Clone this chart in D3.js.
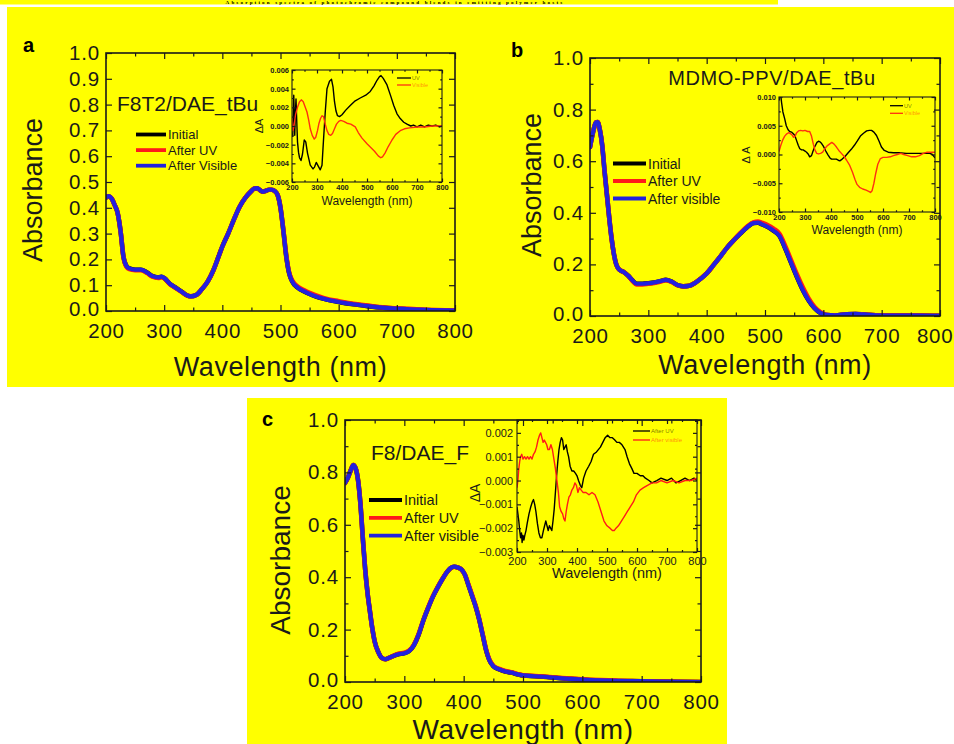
<!DOCTYPE html>
<html><head><meta charset="utf-8">
<script src="https://cdn.jsdelivr.net/npm/d3@7"></script>
<style>html,body{margin:0;padding:0;background:#fff;}svg{display:block;}</style>
</head><body><svg id="chart" width="954" height="744"></svg>
<script>
// ---------------- DATA ----------------
const headerText = "Absorption spectra of photochromic compound blends in emitting polymer hosts";
const panelLabels = ["a", "b", "c"];
const titles = ["F8T2/DAE_tBu", "MDMO-PPV/DAE_tBu", "F8/DAE_F"];
const legendA = ["Initial", "After UV", "After Visible"];
const legendB = ["Initial", "After UV", "After visible"];
const legendC = ["Initial", "After UV", "After visible"];
const insetLegendA = ["UV", "Visible"];
const insetLegendB = ["UV", "Visible"];
const insetLegendC = ["After UV", "After visible"];
const xTicks = [200, 300, 400, 500, 600, 700, 800];
const yTicksA = [0, 0.1, 0.2, 0.3, 0.4, 0.5, 0.6, 0.7, 0.8, 0.9, 1.0];
const yTicksBC = [0, 0.2, 0.4, 0.6, 0.8, 1.0];
const insetYTicksA = [-0.006, -0.004, -0.002, 0, 0.002, 0.004, 0.006];
const insetYTicksB = [-0.010, -0.005, 0, 0.005, 0.010];
const insetYTicksC = [-0.003, -0.002, -0.001, 0, 0.001, 0.002];

// Panel a: F8T2/DAE_tBu
const aWl = [200,205,210,215,220,225,230,235,240,250,260,270,280,290,295,300,310,320,330,340,346,355,365,375,385,395,400,410,420,430,440,450,455,460,465,470,475,480,485,490,495,500,505,510,515,520,530,540,550,560,575,600,625,650,675,700,750,800];
const aInitial = [0.44,0.445,0.435,0.41,0.38,0.31,0.21,0.175,0.165,0.16,0.16,0.15,0.135,0.13,0.133,0.128,0.105,0.09,0.075,0.06,0.057,0.062,0.085,0.115,0.16,0.22,0.25,0.30,0.355,0.405,0.44,0.465,0.475,0.476,0.468,0.462,0.466,0.47,0.47,0.465,0.45,0.40,0.31,0.21,0.145,0.115,0.09,0.077,0.066,0.057,0.047,0.035,0.026,0.019,0.013,0.009,0.004,0.002];
const aAfterUV = [0.44,0.445,0.435,0.41,0.38,0.31,0.21,0.172,0.162,0.158,0.158,0.148,0.133,0.128,0.131,0.127,0.104,0.089,0.074,0.06,0.057,0.062,0.085,0.115,0.16,0.22,0.25,0.30,0.355,0.405,0.44,0.465,0.475,0.476,0.468,0.462,0.466,0.47,0.47,0.465,0.45,0.40,0.312,0.213,0.148,0.119,0.094,0.081,0.07,0.061,0.05,0.038,0.028,0.021,0.014,0.01,0.005,0.002];
const aAfterVisible = [0.44,0.445,0.435,0.41,0.38,0.31,0.21,0.175,0.165,0.16,0.16,0.15,0.135,0.13,0.133,0.128,0.105,0.09,0.075,0.06,0.057,0.062,0.085,0.115,0.16,0.22,0.25,0.30,0.355,0.405,0.44,0.465,0.475,0.476,0.468,0.462,0.466,0.47,0.47,0.465,0.45,0.40,0.31,0.21,0.145,0.115,0.09,0.077,0.066,0.057,0.047,0.035,0.026,0.019,0.013,0.009,0.004,0.002];
const aInsetUV = [[200,-0.0008],[203,-0.0011],[205,0.0012],[207,0.0033],[209,0.0012],[211,-0.0010],[213,0.0010],[216,0.0029],[219,0.0005],[222,-0.0017],[226,-0.0028],[230,-0.0034],[236,-0.0037],[242,-0.0030],[249,-0.0015],[255,-0.0017],[262,-0.0029],[273,-0.0042],[284,-0.0046],[290,-0.0044],[297,-0.0039],[305,-0.0043],[313,-0.0047],[320,-0.0042],[326,-0.0015],[333,0.0015],[340,0.0040],[350,0.0048],[358,0.0050],[364,0.0042],[370,0.0026],[376,0.0016],[382,0.0011],[390,0.0010],[400,0.0012],[415,0.0017],[433,0.0022],[453,0.0027],[473,0.0030],[495,0.0033],[513,0.0037],[528,0.0043],[540,0.0049],[550,0.0053],[556,0.0054],[565,0.0051],[580,0.0044],[595,0.0032],[607,0.0022],[620,0.0013],[633,0.0008],[647,0.0004],[660,0.0002],[675,0.0000],[686,0.0001],[700,-0.0001],[715,0.0001],[730,-0.0001],[745,0.0001],[760,0.0000],[775,0.0001],[790,-0.0001],[800,0.0000]];
const aInsetVisible = [[200,0.0010],[204,-0.0005],[208,0.0000],[214,0.0012],[222,0.0020],[230,0.0026],[238,0.0028],[245,0.0026],[253,0.0020],[260,0.0015],[267,0.0006],[273,-0.0003],[281,-0.0010],[289,-0.0014],[295,-0.0012],[302,-0.0005],[308,0.0003],[314,0.0008],[320,0.0011],[326,0.0010],[333,0.0002],[340,-0.0005],[347,-0.0009],[355,-0.0010],[362,-0.0008],[370,-0.0003],[378,0.0002],[387,0.0005],[395,0.0006],[407,0.0005],[420,0.0003],[435,0.0002],[453,-0.0001],[465,-0.0007],[480,-0.0013],[500,-0.0019],[515,-0.0023],[530,-0.0027],[545,-0.0032],[555,-0.0034],[562,-0.0033],[572,-0.0029],[585,-0.0022],[600,-0.0015],[615,-0.0009],[633,-0.0005],[650,-0.0003],[670,-0.0002],[700,-0.0001],[730,-0.0001],[760,0.0000],[800,0.0000]];

// Panel b: MDMO-PPV/DAE_tBu
const bWl = [200,205,210,213,217,221,225,229,233,237,241,245,250,258,266,272,280,290,300,310,320,330,340,350,360,370,380,390,400,412,425,435,445,458,470,480,488,495,505,515,525,535,545,555,565,575,585,595,605,620,640,655,670,690,720,760,800];
const bInitial = [0.655,0.71,0.75,0.752,0.72,0.66,0.56,0.47,0.38,0.30,0.24,0.20,0.18,0.17,0.155,0.14,0.125,0.125,0.127,0.13,0.135,0.14,0.133,0.12,0.115,0.117,0.128,0.145,0.165,0.198,0.235,0.265,0.29,0.32,0.345,0.36,0.362,0.355,0.345,0.33,0.31,0.26,0.205,0.15,0.10,0.06,0.03,0.012,0.004,0.003,0.007,0.008,0.006,0.003,0.002,0.002,0.001];
const bAfterUV = [0.655,0.71,0.75,0.752,0.72,0.66,0.56,0.47,0.38,0.30,0.24,0.20,0.18,0.17,0.155,0.138,0.122,0.122,0.125,0.128,0.133,0.139,0.132,0.12,0.115,0.117,0.128,0.145,0.165,0.198,0.235,0.265,0.29,0.322,0.348,0.363,0.366,0.361,0.352,0.338,0.318,0.27,0.215,0.16,0.11,0.067,0.035,0.015,0.005,0.003,0.007,0.008,0.006,0.003,0.002,0.002,0.001];
const bAfterVisible = [0.655,0.71,0.75,0.752,0.72,0.66,0.56,0.47,0.38,0.30,0.24,0.20,0.18,0.17,0.155,0.14,0.125,0.125,0.127,0.13,0.135,0.14,0.133,0.12,0.115,0.117,0.128,0.145,0.165,0.198,0.235,0.265,0.29,0.32,0.345,0.36,0.362,0.355,0.345,0.33,0.31,0.26,0.205,0.15,0.10,0.06,0.03,0.012,0.004,0.003,0.007,0.008,0.006,0.003,0.002,0.002,0.001];
const bInsetUV = [[205,0.0110],[210,0.0090],[215,0.0074],[222,0.0062],[228,0.0050],[235,0.0043],[241,0.0040],[248,0.0039],[255,0.0036],[261,0.0033],[267,0.0025],[274,0.0016],[280,0.0010],[287,0.0008],[293,0.0008],[300,0.0006],[306,0.0004],[312,0.0001],[318,-0.0004],[325,-0.0002],[331,0.0006],[337,0.0013],[346,0.0021],[352,0.0023],[358,0.0022],[364,0.0019],[370,0.0015],[380,0.0006],[389,-0.0001],[396,-0.0006],[402,-0.0008],[410,-0.0008],[421,-0.0008],[428,-0.0010],[434,-0.0011],[443,-0.0008],[453,-0.0004],[466,0.0003],[478,0.0009],[490,0.0016],[502,0.0024],[513,0.0032],[525,0.0037],[537,0.0041],[548,0.0042],[556,0.0042],[565,0.0039],[575,0.0033],[585,0.0023],[594,0.0013],[605,0.0007],[620,0.0004],[640,0.0003],[660,0.0003],[690,0.0002],[720,0.0002],[750,0.0002],[780,0.0002],[790,0.0000],[800,-0.0006]];
const bInsetVisible = [[200,0.0005],[207,0.0016],[215,0.0026],[222,0.0032],[230,0.0036],[238,0.0038],[245,0.0036],[250,0.0034],[256,0.0030],[262,0.0032],[268,0.0038],[275,0.0041],[283,0.0042],[292,0.0041],[300,0.0042],[310,0.0040],[318,0.0040],[325,0.0032],[332,0.0018],[338,0.0008],[345,0.0002],[352,0.0001],[360,0.0002],[368,0.0004],[376,0.0010],[385,0.0015],[394,0.0018],[403,0.0021],[412,0.0018],[421,0.0013],[430,0.0007],[440,0.0002],[450,-0.0003],[460,-0.0010],[472,-0.0019],[482,-0.0030],[492,-0.0043],[500,-0.0052],[510,-0.0057],[522,-0.0060],[535,-0.0062],[545,-0.0064],[552,-0.0066],[558,-0.0063],[565,-0.0050],[572,-0.0033],[580,-0.0017],[590,-0.0007],[600,-0.0005],[614,-0.0005],[628,-0.0004],[640,-0.0002],[655,0.0000],[668,0.0002],[680,0.0000],[695,-0.0002],[710,-0.0004],[725,-0.0004],[740,-0.0002],[755,0.0002],[770,0.0004],[785,0.0004],[800,0.0004]];

// Panel c: F8/DAE_F
const cWl = [200,205,210,214,218,222,226,230,234,238,242,246,250,256,262,268,274,280,290,300,308,316,324,332,340,348,356,364,372,378,384,390,396,402,408,414,420,426,432,438,443,450,460,470,480,490,500,520,540,560,580,600,630,660,700,730,760,800];
const cInitial = [0.76,0.78,0.81,0.828,0.815,0.77,0.68,0.55,0.43,0.34,0.27,0.205,0.155,0.115,0.092,0.087,0.092,0.098,0.106,0.11,0.118,0.14,0.18,0.235,0.282,0.325,0.36,0.392,0.42,0.435,0.44,0.437,0.43,0.41,0.37,0.33,0.29,0.24,0.18,0.12,0.085,0.06,0.048,0.04,0.036,0.03,0.025,0.022,0.019,0.015,0.012,0.009,0.006,0.004,0.003,0.002,0.001,0.0];
const cAfterUV = [0.76,0.78,0.81,0.828,0.815,0.77,0.68,0.55,0.43,0.34,0.27,0.205,0.155,0.115,0.092,0.087,0.092,0.098,0.108,0.112,0.12,0.142,0.182,0.236,0.283,0.326,0.361,0.392,0.42,0.435,0.44,0.437,0.43,0.41,0.372,0.333,0.292,0.242,0.182,0.122,0.087,0.062,0.05,0.042,0.037,0.031,0.026,0.023,0.02,0.016,0.013,0.01,0.007,0.005,0.003,0.002,0.001,0.0];
const cAfterVisible = [0.76,0.78,0.81,0.828,0.815,0.77,0.68,0.55,0.43,0.34,0.27,0.205,0.155,0.115,0.092,0.087,0.092,0.098,0.106,0.11,0.118,0.14,0.18,0.235,0.282,0.325,0.36,0.392,0.42,0.435,0.44,0.437,0.43,0.41,0.37,0.33,0.29,0.24,0.18,0.12,0.085,0.06,0.048,0.04,0.036,0.03,0.025,0.022,0.019,0.015,0.012,0.009,0.006,0.004,0.003,0.002,0.001,0.0];
const cInsetUV = [[200,-0.0011],[203,-0.0014],[206,-0.0017],[209,-0.0021],[212,-0.0024],[215,-0.0022],[217,-0.0026],[220,-0.0023],[223,-0.0025],[226,-0.0023],[230,-0.0021],[234,-0.0018],[240,-0.0014],[246,-0.0011],[251,-0.0009],[255,-0.0008],[259,-0.0010],[263,-0.0013],[268,-0.0018],[273,-0.0022],[278,-0.0024],[283,-0.0024],[288,-0.0021],[292,-0.0019],[296,-0.0017],[300,-0.0019],[304,-0.0021],[308,-0.0019],[312,-0.0020],[316,-0.0021],[320,-0.0017],[324,-0.0012],[328,-0.0005],[332,0.0002],[336,0.0008],[340,0.0013],[344,0.0016],[348,0.0018],[352,0.0017],[356,0.0013],[360,0.0014],[364,0.0015],[368,0.0012],[372,0.0010],[377,0.0006],[383,0.0004],[389,0.0004],[395,0.0003],[400,0.0002],[405,0.0000],[411,-0.0002],[416,-0.0003],[422,0.0001],[430,0.0004],[439,0.0006],[447,0.0008],[455,0.0011],[465,0.0012],[478,0.0014],[486,0.0016],[494,0.0018],[502,0.0019],[510,0.0018],[518,0.0018],[526,0.0017],[533,0.0016],[541,0.0016],[550,0.0015],[560,0.0013],[567,0.0010],[575,0.0007],[583,0.0005],[590,0.0003],[600,0.0003],[611,0.0002],[620,0.0002],[628,0.0001],[640,0.0000],[650,-0.0001],[666,0.0000],[680,0.0001],[700,0.0000],[715,0.0001],[730,-0.0001],[745,0.0000],[760,0.0001],[775,0.0000],[790,0.0001],[800,0.0000]];
const cInsetVisible = [[200,-0.0003],[203,0.0000],[206,0.0005],[209,0.0008],[212,0.0010],[216,0.0011],[220,0.0009],[225,0.0010],[230,0.0009],[235,0.0010],[240,0.0009],[245,0.0010],[250,0.0009],[255,0.0011],[260,0.0012],[265,0.0014],[270,0.0017],[275,0.0019],[279,0.0020],[283,0.0018],[287,0.0016],[291,0.0017],[295,0.0016],[299,0.0015],[303,0.0013],[308,0.0013],[313,0.0015],[318,0.0013],[323,0.0009],[328,0.0005],[333,0.0000],[338,-0.0005],[342,-0.0011],[347,-0.0013],[352,-0.0014],[356,-0.0016],[360,-0.0017],[364,-0.0013],[368,-0.0010],[373,-0.0007],[378,-0.0006],[383,-0.0004],[388,-0.0003],[393,-0.0001],[398,-0.0002],[403,-0.0005],[408,-0.0003],[414,-0.0004],[420,-0.0005],[430,-0.0005],[440,-0.0006],[450,-0.0005],[460,-0.0006],[470,-0.0009],[480,-0.0013],[490,-0.0017],[500,-0.0019],[510,-0.0020],[518,-0.0021],[524,-0.0021],[530,-0.0020],[538,-0.0019],[548,-0.0017],[558,-0.0015],[568,-0.0013],[578,-0.0011],[588,-0.0009],[598,-0.0006],[610,-0.0004],[622,-0.0003],[635,-0.0002],[650,-0.0001],[665,-0.0001],[680,0.0000],[700,-0.0001],[720,0.0000],[740,-0.0001],[760,0.0000],[780,0.0000],[800,0.0001]];

// ---------------- DRAWING ----------------
const FONT = "Arial, 'Liberation Sans', Helvetica, sans-serif";
const INK = "#1a1a1a";
const YELLOW = "#ffff00";
const C_BLACK = "#000000", C_RED = "#ff1a1a", C_BLUE = "#2222dd", C_IRED = "#ff3010";
const svg = d3.select("#chart");
svg.append("rect").attr("width", 954).attr("height", 744).attr("fill", "#ffffff");
svg.append("rect").attr("x", 0).attr("y", 0).attr("width", 778).attr("height", 4.5).attr("fill", YELLOW);
svg.append("text").attr("x", 395).attr("y", 4).attr("text-anchor", "middle")
  .attr("font-family", "'Liberation Serif', 'DejaVu Serif', serif").attr("font-weight", "bold")
  .attr("font-size", 5).attr("letter-spacing", 2.2).attr("fill", "#000").text(headerText);
svg.append("rect").attr("x", 7).attr("y", 7).attr("width", 947).attr("height", 380).attr("fill", YELLOW);
svg.append("rect").attr("x", 247).attr("y", 398).attr("width", 480).attr("height", 346).attr("fill", YELLOW);
const defs = svg.append("defs");
let clipId = 0;

function styleAxis(g, fs, weight, ls) {
  g.attr("font-size", fs).attr("font-family", FONT);
  g.select(".domain").remove();
  g.selectAll("line").attr("stroke", INK).attr("stroke-width", 1.2);
  g.selectAll("text").attr("fill", INK).attr("font-weight", weight || "normal").attr("letter-spacing", ls || 0);
}

function drawFrame(g, x, y, box, o) {
  const mk = (axisFn, vals, size, fmt, pad, tr, fs) => {
    const a = axisFn(axisFn === d3.axisBottom || axisFn === d3.axisTop ? x : y)
      .tickValues(vals).tickSizeInner(-size).tickSizeOuter(0).tickPadding(pad).tickFormat(fmt);
    const gg = g.append("g").attr("transform", tr).call(a);
    styleAxis(gg, fs, o.weight, o.ls);
    return gg;
  };
  const none = () => "";
  const bt = `translate(0,${box.y1})`, tt = `translate(0,${box.y0})`;
  const lt = `translate(${box.x0},0)`, rt = `translate(${box.x1},0)`;
  const xb = mk(d3.axisBottom, o.xMajor, o.major, d3.format("d"), o.xPad, bt, o.fs);
  if (o.maxRight) {
    // keep the last label inside the picture
    xb.selectAll(".tick").filter(d => d === 800).select("text")
      .attr("text-anchor", "end").attr("x", o.maxRight - box.x1);
  }
  mk(d3.axisBottom, o.xMinor, o.minor, none, 0, bt, o.fs);
  mk(d3.axisTop, o.xMajor, o.major, none, 0, tt, o.fs);
  mk(d3.axisTop, o.xMinor, o.minor, none, 0, tt, o.fs);
  const yl = mk(d3.axisLeft, o.yMajor, o.major, o.yFmt, o.yPad, lt, o.fs);
  if (o.lowLabelLift) {
    // nudge the lowest y label up a little so it clears the first x label
    yl.selectAll(".tick").filter(d => d === o.yMajor[0]).select("text").attr("y", -o.lowLabelLift);
  }
  mk(d3.axisLeft, o.yMinor, o.minor, none, 0, lt, o.fs);
  mk(d3.axisRight, o.yMajor, o.major, none, 0, rt, o.fs);
  mk(d3.axisRight, o.yMinor, o.minor, none, 0, rt, o.fs);
  g.append("rect").attr("x", box.x0).attr("y", box.y0).attr("width", box.x1 - box.x0)
    .attr("height", box.y1 - box.y0).attr("fill", "none").attr("stroke", INK).attr("stroke-width", o.frameW);
}

function clipFor(box) {
  const id = "clip" + (clipId++);
  defs.append("clipPath").attr("id", id).append("rect")
    .attr("x", box.x0).attr("y", box.y0).attr("width", box.x1 - box.x0).attr("height", box.y1 - box.y0);
  return `url(#${id})`;
}

function drawMain(p) {
  const g = svg.append("g");
  const x = d3.scaleLinear().domain([200, 800]).range([p.box.x0, p.box.x1]);
  const y = d3.scaleLinear().domain([0, 1]).range([p.box.y1, p.box.y0]);
  const line = d3.line().x(d => x(d[0])).y(d => y(d[1])).curve(d3.curveMonotoneX);
  const cg = g.append("g").attr("clip-path", clipFor(p.box));
  p.series.forEach(s => {
    cg.append("path").datum(d3.zip(p.wl, s.vals)).attr("d", line).attr("fill", "none")
      .attr("stroke", s.color).attr("stroke-width", s.w).attr("stroke-linejoin", "round").attr("stroke-linecap", "round");
  });
  drawFrame(g, x, y, p.box, {xMajor: xTicks, xMinor: [250,350,450,550,650,750], yMajor: p.yMajor, yMinor: p.yMinor,
    yFmt: d3.format(".1f"), major: 6, minor: 3.5, xPad: 12, yPad: 6, fs: p.fs, frameW: 1.6, ls: 0.8,
    maxRight: p.maxRight, lowLabelLift: 2});
  // panel label
  g.append("text").attr("x", p.label.x).attr("y", p.label.y).attr("font-family", FONT).attr("font-weight", "bold")
    .attr("font-size", p.label.fs).attr("fill", "#000").text(p.label.t);
  // axis titles
  g.append("text").attr("x", (p.box.x0 + p.box.x1) / 2 + p.xt.dx).attr("y", p.xt.y).attr("text-anchor", "middle")
    .attr("font-family", FONT).attr("font-size", p.xt.fs).attr("letter-spacing", 0.6).attr("fill", INK).text("Wavelength (nm)");
  g.append("text").attr("transform", `translate(${p.yt.x},${p.yt.y}) rotate(-90)`).attr("text-anchor", "middle")
    .attr("font-family", FONT).attr("font-size", p.yt.fs).attr("fill", INK).text("Absorbance");
  // title
  g.append("text").attr("x", p.title.x).attr("y", p.title.y).attr("text-anchor", p.title.anchor)
    .attr("font-family", FONT).attr("font-size", p.title.fs).attr("letter-spacing", p.title.ls || 0).attr("fill", INK).text(p.title.t);
  // legend
  p.legend.names.forEach((n, i) => {
    const ly = p.legend.y0 + i * p.legend.dy;
    g.append("line").attr("x1", p.legend.x0).attr("x2", p.legend.x1).attr("y1", ly).attr("y2", ly)
      .attr("stroke", p.series[i].color).attr("stroke-width", 3.8);
    g.append("text").attr("x", p.legend.x1 + 2).attr("y", ly).attr("dy", "0.36em").attr("font-family", FONT)
      .attr("font-size", p.legend.fs).attr("fill", INK).text(n);
  });
}

function drawInset(p) {
  const g = svg.append("g");
  const x = d3.scaleLinear().domain([200, 800]).range([p.box.x0, p.box.x1]);
  const y = d3.scaleLinear().domain(p.yDomain).range([p.box.y1, p.box.y0]);
  const line = d3.line().x(d => x(d[0])).y(d => y(d[1]));
  const cg = g.append("g").attr("clip-path", clipFor(p.box));
  p.series.forEach(s => {
    cg.append("path").datum(s.data).attr("d", line).attr("fill", "none")
      .attr("stroke", s.color).attr("stroke-width", p.lw).attr("stroke-linejoin", "round");
  });
  const yMinor = [];
  for (let i = 0; i < p.yMajor.length - 1; i++) yMinor.push((p.yMajor[i] + p.yMajor[i + 1]) / 2);
  if (p.extraMinor) yMinor.push(p.extraMinor);
  drawFrame(g, x, y, p.box, {xMajor: xTicks, xMinor: [250,350,450,550,650,750], yMajor: p.yMajor, yMinor: yMinor,
    yFmt: d3.format(".3f"), major: p.major, minor: p.major / 2, xPad: p.xPad, yPad: p.yPad, fs: p.fs, frameW: 1.1, weight: p.weight});
  g.append("text").attr("x", (p.box.x0 + p.box.x1) / 2).attr("y", p.xt.y).attr("text-anchor", "middle")
    .attr("font-family", FONT).attr("font-size", p.xt.fs).attr("fill", INK).text("Wavelength (nm)");
  g.append("text").attr("transform", `translate(${p.yt.x},${p.yt.y}) rotate(-90)`).attr("text-anchor", "middle")
    .attr("font-family", FONT).attr("font-size", p.yt.fs).attr("fill", INK).text(p.yt.t);
  p.legend.names.forEach((n, i) => {
    const ly = p.legend.y0 + i * p.legend.dy;
    g.append("line").attr("x1", p.legend.x0).attr("x2", p.legend.x1).attr("y1", ly).attr("y2", ly)
      .attr("stroke", p.series[i].color).attr("stroke-width", 1.3);
    g.append("text").attr("x", p.legend.x1 + 1).attr("y", ly).attr("dy", "0.36em").attr("font-family", FONT)
      .attr("font-size", p.legend.fs).attr("fill", p.series[i].color).attr("fill-opacity", 0.55).text(n);
  });
}

// Panel a
drawMain({box: {x0: 106, x1: 455, y0: 53, y1: 311}, wl: aWl,
  series: [{vals: aInitial, color: C_BLACK, w: 4.6}, {vals: aAfterUV, color: C_RED, w: 4.6}, {vals: aAfterVisible, color: C_BLUE, w: 4.2}],
  yMajor: yTicksA, yMinor: [], fs: 20.5,
  label: {x: 23, y: 52, fs: 20, t: panelLabels[0]},
  xt: {y: 376, fs: 27, dx: 0}, yt: {x: 42, y: 190, fs: 27},
  title: {x: 117, y: 111, anchor: "start", fs: 21, t: titles[0]},
  legend: {names: legendA, x0: 136, x1: 166, y0: 134.5, dy: 15.6, fs: 13}});
drawInset({box: {x0: 292, x1: 442, y0: 70, y1: 182}, yDomain: [-0.006, 0.006], yMajor: insetYTicksA,
  series: [{data: aInsetUV, color: C_BLACK}, {data: aInsetVisible, color: C_IRED}], lw: 1.4,
  fs: 7.5, major: 3.5, xPad: 3, yPad: 3, weight: "bold",
  xt: {y: 205, fs: 12}, yt: {x: 263, y: 126, fs: 11, t: "ΔA"},
  legend: {names: insetLegendA, x0: 397, x1: 411, y0: 78, dy: 7, fs: 5.5}});

// Panel b
drawMain({box: {x0: 590, x1: 940, y0: 58, y1: 316}, wl: bWl,
  series: [{vals: bInitial, color: C_BLACK, w: 4.6}, {vals: bAfterUV, color: C_RED, w: 4.6}, {vals: bAfterVisible, color: C_BLUE, w: 4.2}],
  yMajor: yTicksBC, yMinor: [0.1, 0.3, 0.5, 0.7, 0.9], fs: 20.5, maxRight: 953,
  label: {x: 511, y: 57, fs: 20, t: panelLabels[1]},
  xt: {y: 374, fs: 27, dx: 0}, yt: {x: 541, y: 185, fs: 27},
  title: {x: 772, y: 85, anchor: "middle", fs: 20, ls: 0.6, t: titles[1]},
  legend: {names: legendB, x0: 613, x1: 646, y0: 163.5, dy: 17.5, fs: 14}});
drawInset({box: {x0: 779, x1: 935, y0: 97, y1: 212}, yDomain: [-0.010, 0.010], yMajor: insetYTicksB,
  series: [{data: bInsetUV, color: C_BLACK}, {data: bInsetVisible, color: C_IRED}], lw: 1.4,
  fs: 7.5, major: 3.5, xPad: 3, yPad: 3, weight: "bold",
  xt: {y: 234, fs: 12}, yt: {x: 750, y: 155, fs: 11, t: "Δ A"},
  legend: {names: insetLegendB, x0: 890, x1: 903, y0: 105.7, dy: 7.6, fs: 5.5}});

// Panel c
drawMain({box: {x0: 345, x1: 701, y0: 420, y1: 682}, wl: cWl,
  series: [{vals: cInitial, color: C_BLACK, w: 4.6}, {vals: cAfterUV, color: C_RED, w: 4.6}, {vals: cAfterVisible, color: C_BLUE, w: 4.2}],
  yMajor: yTicksBC, yMinor: [0.1, 0.3, 0.5, 0.7, 0.9], fs: 20.5,
  label: {x: 262, y: 426, fs: 20, t: panelLabels[2]},
  xt: {y: 739, fs: 28, dx: 0}, yt: {x: 290, y: 560, fs: 28},
  title: {x: 371, y: 460, anchor: "start", fs: 21, t: titles[2]},
  legend: {names: legendC, x0: 369, x1: 402, y0: 500, dy: 17.8, fs: 14.5}});
drawInset({box: {x0: 517, x1: 697, y0: 420, y1: 552}, yDomain: [-0.003, 0.00254], yMajor: insetYTicksC,
  series: [{data: cInsetUV, color: C_BLACK}, {data: cInsetVisible, color: C_RED}], lw: 1.4,
  fs: 11, major: 4, xPad: 5, yPad: 4, weight: "normal", extraMinor: 0.0025,
  xt: {y: 578, fs: 14.5}, yt: {x: 480, y: 493, fs: 14, t: "ΔA"},
  legend: {names: insetLegendC, x0: 633, x1: 650, y0: 431, dy: 9, fs: 6}});
</script></body></html>
